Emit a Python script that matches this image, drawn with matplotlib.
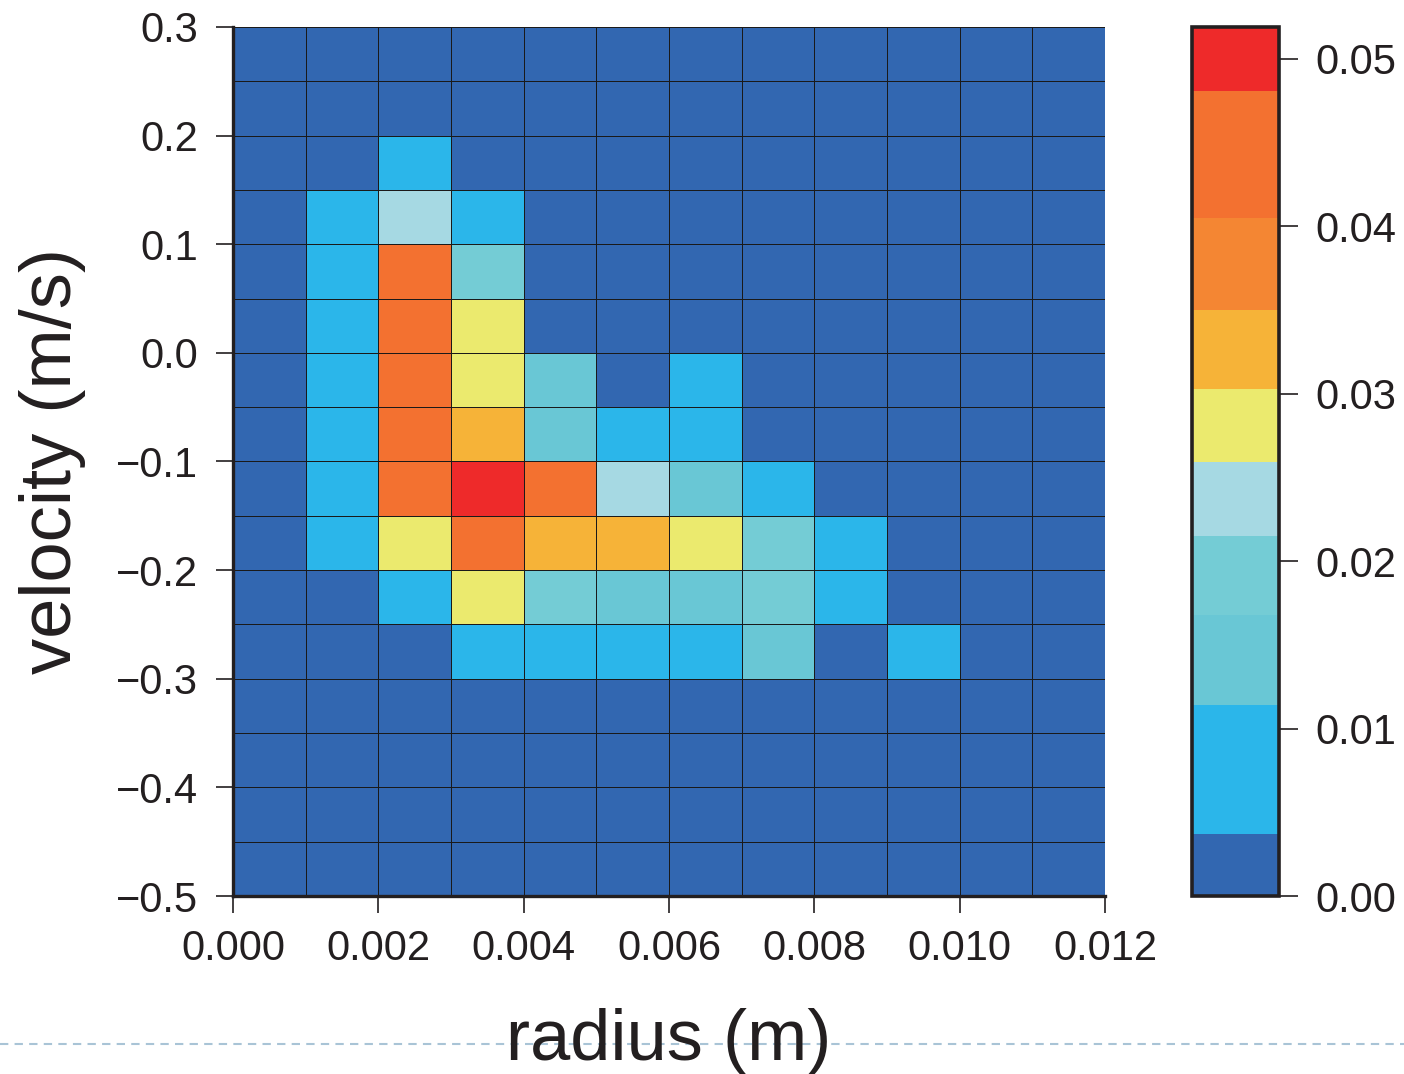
import numpy as np
import matplotlib
matplotlib.use("Agg")
import matplotlib.pyplot as plt
from matplotlib.colors import ListedColormap, BoundaryNorm
from matplotlib.lines import Line2D

plt.rcParams['font.family'] = ['Liberation Sans', 'DejaVu Sans']

# bin edges
x_edges = [0.000, 0.001, 0.002, 0.003, 0.004, 0.005, 0.006, 0.007, 0.008, 0.009, 0.010, 0.011, 0.012]
y_edges = [-0.50, -0.45, -0.40, -0.35, -0.30, -0.25, -0.20, -0.15, -0.10, -0.05,
           0.00, 0.05, 0.10, 0.15, 0.20, 0.25, 0.30]

# cell values, rows listed from top (0.25..0.30) to bottom (-0.50..-0.45)
rows_top_to_bottom = [
    [0, 0, 0, 0, 0, 0, 0, 0, 0, 0, 0, 0],
    [0, 0, 0, 0, 0, 0, 0, 0, 0, 0, 0, 0],
    [0, 0, 0.008, 0, 0, 0, 0, 0, 0, 0, 0, 0],
    [0, 0.008, 0.024, 0.008, 0, 0, 0, 0, 0, 0, 0, 0],
    [0, 0.008, 0.044, 0.019, 0, 0, 0, 0, 0, 0, 0, 0],
    [0, 0.008, 0.044, 0.028, 0, 0, 0, 0, 0, 0, 0, 0],
    [0, 0.008, 0.044, 0.028, 0.014, 0, 0.008, 0, 0, 0, 0, 0],
    [0, 0.008, 0.044, 0.033, 0.014, 0.008, 0.008, 0, 0, 0, 0, 0],
    [0, 0.008, 0.044, 0.050, 0.044, 0.024, 0.014, 0.008, 0, 0, 0, 0],
    [0, 0.008, 0.028, 0.044, 0.033, 0.033, 0.028, 0.019, 0.008, 0, 0, 0],
    [0, 0, 0.008, 0.028, 0.019, 0.014, 0.014, 0.019, 0.008, 0, 0, 0],
    [0, 0, 0, 0.008, 0.008, 0.008, 0.008, 0.014, 0, 0.008, 0, 0],
    [0, 0, 0, 0, 0, 0, 0, 0, 0, 0, 0, 0],
    [0, 0, 0, 0, 0, 0, 0, 0, 0, 0, 0, 0],
    [0, 0, 0, 0, 0, 0, 0, 0, 0, 0, 0, 0],
    [0, 0, 0, 0, 0, 0, 0, 0, 0, 0, 0, 0],
]

# colour levels
level_bounds = [0.0, 0.0037, 0.0114, 0.0168, 0.0215, 0.0259, 0.0303, 0.0350, 0.0405, 0.0481, 0.0519]
level_colors = ['#3267B1', '#2BB6EA', '#69C7D5', '#74CCD5', '#A6D9E3',
                '#EBEA6E', '#F6B338', '#F48633', '#F37130', '#EE2A2A']
cbar_ticks = [0.00, 0.01, 0.02, 0.03, 0.04, 0.05]
x_ticks = [0.000, 0.002, 0.004, 0.006, 0.008, 0.010, 0.012]
y_ticks = [-0.5, -0.4, -0.3, -0.2, -0.1, 0.0, 0.1, 0.2, 0.3]

Z = np.array(rows_top_to_bottom)[::-1]

fig = plt.figure(figsize=(14.04, 10.74), dpi=100)
ax = fig.add_axes([0.166, 0.1657, 0.621, 0.8092])
cax = fig.add_axes([0.8490, 0.1657, 0.0620, 0.8092])

cmap = ListedColormap(level_colors)
norm = BoundaryNorm(level_bounds, cmap.N)

mesh = ax.pcolormesh(x_edges, y_edges, Z, cmap=cmap, norm=norm,
                     edgecolors='#1a1a1a', linewidth=0.6)
ax.set_xlim(0, 0.012)
ax.set_ylim(-0.5, 0.3)
ax.set_xticks(x_ticks)
ax.set_xticklabels([f"{v:.3f}" for v in x_ticks])
ax.set_yticks(y_ticks)
ax.set_yticklabels([f"{v:.1f}".replace('-', '\u2212') for v in y_ticks])
for s in ['top', 'right']:
    ax.spines[s].set_visible(False)
for s in ['left', 'bottom']:
    ax.spines[s].set_linewidth(2.4)
    ax.spines[s].set_color('#231f20')
ax.tick_params(axis='both', direction='out', length=12, width=1.2,
               labelsize=30, colors='#231f20')
ax.tick_params(axis='x', pad=12)
ax.tick_params(axis='y', pad=13)
ax.set_xlabel('radius (m)', fontsize=52, labelpad=28, color='#231f20')
ax.set_ylabel('velocity (m/s)', fontsize=52, labelpad=22, color='#231f20')

cb = fig.colorbar(mesh, cax=cax, spacing='proportional', ticks=cbar_ticks)
cb.minorticks_off()
cb.ax.set_yticklabels([f"{v:.2f}" for v in cbar_ticks])
cb.outline.set_linewidth(2.6)
cb.outline.set_edgecolor('#231f20')
cb.ax.tick_params(direction='out', length=14, width=1.2, labelsize=30, pad=12,
                  colors='#231f20')

# dashed separator line across the figure
fig.add_artist(Line2D([0.0, 1.0], [0.028, 0.028], transform=fig.transFigure,
                      color='#A9C4D6', linestyle=(0, (4, 3)), linewidth=1.5, zorder=0))

fig.savefig('out.png', dpi=100)
